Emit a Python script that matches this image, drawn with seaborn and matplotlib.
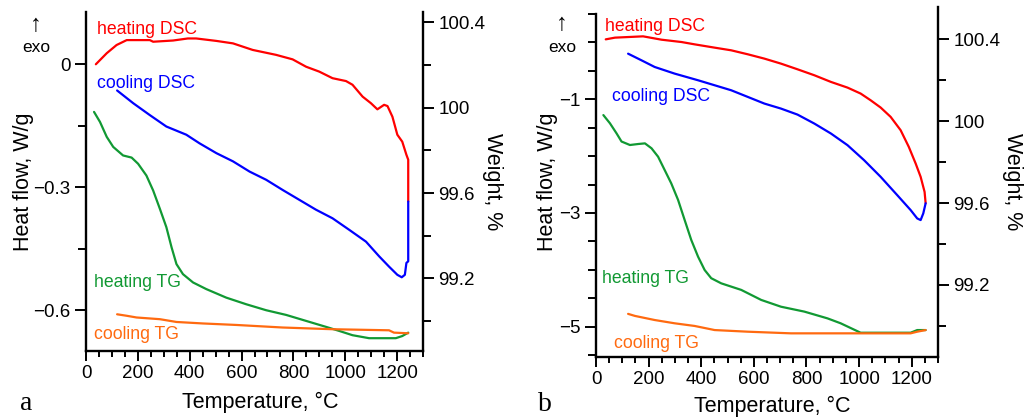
import numpy as np
import pandas as pd
import matplotlib
matplotlib.use("Agg")
import matplotlib.pyplot as plt
import seaborn as sns

sns.set_theme(style="ticks")
plt.rcParams['font.family'] = ['Liberation Sans', 'DejaVu Sans']
plt.rcParams.update({
    "xtick.bottom": True, "xtick.top": False, "ytick.left": True, "ytick.right": False,
    "xtick.direction": "out", "ytick.direction": "out",
    "xtick.major.size": 7, "xtick.minor.size": 4,
    "ytick.major.size": 8, "ytick.minor.size": 5.5,
    "xtick.major.width": 1.4, "xtick.minor.width": 1.4,
    "ytick.major.width": 1.4, "ytick.minor.width": 1.4,
    "xtick.major.pad": 3, "ytick.major.pad": 3,
    "xtick.labelsize": 13.5, "ytick.labelsize": 13.5,
    "xtick.color": "black", "ytick.color": "black",
    "axes.edgecolor": "black", "axes.linewidth": 1.7, "text.color": "black",
})

# ---------------- Panel a data ----------------
a_heat_dsc_T = [38, 80, 118, 157, 246, 259, 336, 393, 425, 503, 567, 643, 733, 797, 849, 900, 951, 1003, 1028, 1067, 1099, 1124, 1150, 1163, 1182, 1201, 1220, 1236, 1243, 1243]
a_heat_dsc_H = [0.0, 0.027, 0.047, 0.059, 0.059, 0.055, 0.058, 0.063, 0.063, 0.057, 0.051, 0.035, 0.023, 0.012, -0.006, -0.018, -0.034, -0.041, -0.050, -0.079, -0.095, -0.110, -0.099, -0.102, -0.128, -0.172, -0.189, -0.221, -0.233, -0.335]

a_cool_dsc_T = [1243, 1243, 1236, 1230, 1218, 1201, 1169, 1131, 1080, 1015, 951, 887, 823, 759, 695, 631, 567, 503, 438, 387, 310, 246, 182, 120]
a_cool_dsc_H = [-0.335, -0.481, -0.485, -0.514, -0.520, -0.514, -0.494, -0.469, -0.433, -0.404, -0.376, -0.355, -0.331, -0.307, -0.282, -0.262, -0.237, -0.217, -0.193, -0.172, -0.152, -0.124, -0.095, -0.064]

a_heat_tg_T = [31, 54, 80, 105, 143, 176, 201, 233, 259, 285, 310, 330, 349, 374, 413, 464, 541, 618, 695, 772, 849, 926, 977, 1028, 1092, 1195, 1220, 1243]
a_heat_tg_W = [99.98, 99.933, 99.863, 99.816, 99.776, 99.766, 99.737, 99.682, 99.612, 99.526, 99.44, 99.346, 99.267, 99.22, 99.181, 99.15, 99.11, 99.079, 99.051, 99.029, 99.001, 98.973, 98.954, 98.934, 98.92, 98.92, 98.93, 98.946]

a_cool_tg_T = [1243, 1188, 1169, 951, 759, 580, 451, 349, 285, 195, 157, 120]
a_cool_tg_W = [98.943, 98.946, 98.957, 98.962, 98.97, 98.982, 98.989, 98.996, 99.009, 99.017, 99.025, 99.032]

# ---------------- Panel b data ----------------
b_heat_dsc_T = [37, 72, 179, 249, 325, 375, 451, 514, 577, 640, 703, 766, 830, 893, 956, 1006, 1044, 1082, 1120, 1158, 1189, 1215, 1234, 1249, 1253]
b_heat_dsc_H = [0.054, 0.084, 0.107, 0.048, 0.007, -0.034, -0.092, -0.139, -0.209, -0.285, -0.373, -0.473, -0.578, -0.695, -0.795, -0.90, -1.018, -1.146, -1.31, -1.545, -1.838, -2.13, -2.365, -2.63, -2.83]

b_cool_dsc_T = [1253, 1244, 1234, 1221, 1196, 1145, 1082, 1019, 956, 893, 830, 766, 703, 640, 577, 514, 451, 388, 299, 223, 173, 122]
b_cool_dsc_H = [-2.83, -3.009, -3.126, -3.097, -2.95, -2.687, -2.365, -2.072, -1.808, -1.603, -1.428, -1.27, -1.164, -1.076, -0.959, -0.842, -0.754, -0.666, -0.549, -0.432, -0.315, -0.198]

b_heat_tg_T = [28, 53, 78, 97, 129, 161, 186, 211, 236, 261, 286, 312, 337, 362, 388, 413, 438, 476, 552, 628, 703, 792, 880, 930, 1006, 1196, 1221, 1253]
b_heat_tg_W = [100.029, 99.989, 99.94, 99.90, 99.883, 99.888, 99.891, 99.867, 99.826, 99.761, 99.696, 99.615, 99.517, 99.42, 99.338, 99.273, 99.233, 99.208, 99.176, 99.127, 99.094, 99.07, 99.037, 99.013, 98.967, 98.967, 98.98, 98.98]

b_cool_tg_T = [1253, 1221, 1196, 956, 741, 577, 451, 375, 299, 223, 148, 122]
b_cool_tg_W = [98.98, 98.972, 98.964, 98.964, 98.964, 98.972, 98.98, 99.0, 99.013, 99.029, 99.049, 99.059]

x_major = [0, 200, 400, 600, 800, 1000, 1200]
w_major = [99.2, 99.6, 100.0, 100.4]
w_major_labels = ["99.2", "99.6", "100", "100.4"]
w_minor = [99.0, 99.4, 99.8, 100.2]

RED, BLUE, GREEN, ORANGE = "#ff0000", "#0000ff", "#119933", "#ff6a10"
W, H = 1033, 419
fig = plt.figure(figsize=(W / 100, H / 100), dpi=100)


def px_axes(l, r, top, bot):
    return fig.add_axes([l / W, 1 - bot / H, (r - l) / W, (bot - top) / H])


def curve(ax, T, Y, color):
    df = pd.DataFrame({"T": T, "Y": Y})
    sns.lineplot(data=df, x="T", y="Y", ax=ax, color=color, sort=False,
                 estimator=None, lw=1.6)


def base(ax, ax2):
    ax.spines["top"].set_visible(False)
    ax2.spines["top"].set_visible(False)
    ax.spines["right"].set_visible(False)
    ax2.spines["left"].set_visible(False)
    ax2.spines["bottom"].set_visible(False)
    ax.set_xlim(0, 1300)
    ax.set_xticks(x_major)
    ax.set_xticks(np.arange(0, 1301, 50), minor=True)
    ax2.set_yticks(w_major)
    ax2.set_yticklabels(w_major_labels)
    ax2.set_yticks(w_minor, minor=True)
    ax.set_xlabel("")
    ax.set_ylabel("")
    ax2.set_ylabel("")


# ---------------- Panel a ----------------
axa = px_axes(86, 423, 12, 351)
axa2 = axa.twinx()
curve(axa, a_heat_dsc_T, a_heat_dsc_H, RED)
curve(axa, a_cool_dsc_T, a_cool_dsc_H, BLUE)
curve(axa2, a_heat_tg_T, a_heat_tg_W, GREEN)
curve(axa2, a_cool_tg_T, a_cool_tg_W, ORANGE)
base(axa, axa2)
axa.set_ylim(-0.7, 0.1276)
axa.set_yticks([-0.6, -0.3, 0.0])
axa.set_yticklabels(["\u22120.6", "\u22120.3", "0"])
axa.set_yticks([-0.45, -0.15], minor=True)
axa2.set_ylim(98.86, 100.448)

# ---------------- Panel b ----------------
axb = px_axes(596, 938, 7.3, 356.7)
axb2 = axb.twinx()
curve(axb, b_heat_dsc_T, b_heat_dsc_H, RED)
curve(axb, b_cool_dsc_T, b_cool_dsc_H, BLUE)
curve(axb2, b_heat_tg_T, b_heat_tg_W, GREEN)
curve(axb2, b_cool_tg_T, b_cool_tg_W, ORANGE)
base(axb, axb2)
axb.set_ylim(-5.53, 0.618)
axb.spines["left"].set_bounds(-5.53, 0.5)
axb.set_yticks([-5, -3, -1])
axb.set_yticklabels(["\u22125", "\u22123", "\u22121"])
axb.set_yticks(np.arange(-5.5, 0.51, 0.5), minor=True)
axb2.set_ylim(98.85, 100.555)

for a in (axa, axb):
    a.xaxis.set_tick_params(which="both", bottom=True, top=False)
    a.yaxis.set_tick_params(which="both", left=True, right=False)


def ftext(x, y, s, **kw):
    fig.text(x / W, 1 - y / H, s, **kw)


lab = dict(fontsize=12.7, ha="left", va="baseline")
ftext(97, 34, "heating DSC", color=RED, **lab)
ftext(97, 88, "cooling DSC", color=BLUE, **lab)
ftext(94, 287, "heating TG", color=GREEN, **lab)
ftext(94, 339, "cooling TG", color=ORANGE, **lab)
ftext(605, 31, "heating DSC", color=RED, **lab)
ftext(612, 101, "cooling DSC", color=BLUE, **lab)
ftext(602, 283, "heating TG", color=GREEN, **lab)
ftext(614, 348, "cooling TG", color=ORANGE, **lab)

for (xa, ya, xe, ye) in [(36, 25, 36, 47), (562, 24, 562, 48)]:
    ftext(xa, ya, "\u2191", fontsize=17, ha="center", va="center")
    ftext(xe, ye, "exo", fontsize=12.5, ha="center", va="center")

ax_lab = dict(fontsize=15.5, ha="center", va="center")
ftext(23, 182, "Heat flow, W/g", rotation=90, **ax_lab)
ftext(548, 182, "Heat flow, W/g", rotation=90, **ax_lab)
ftext(493, 182, "Weight, %", rotation=-90, **ax_lab)
ftext(1012, 182, "Weight, %", rotation=-90, **ax_lab)
ftext(260, 408, "Temperature, \u00b0C", fontsize=15.5, ha="center", va="baseline")
ftext(772, 412, "Temperature, \u00b0C", fontsize=15.5, ha="center", va="baseline")
ftext(26, 410, "a", fontsize=20, family="Liberation Serif", ha="center", va="baseline")
ftext(545, 411, "b", fontsize=20, family="Liberation Serif", ha="center", va="baseline")

fig.canvas.draw()
fig.savefig("out.png", dpi=100)
